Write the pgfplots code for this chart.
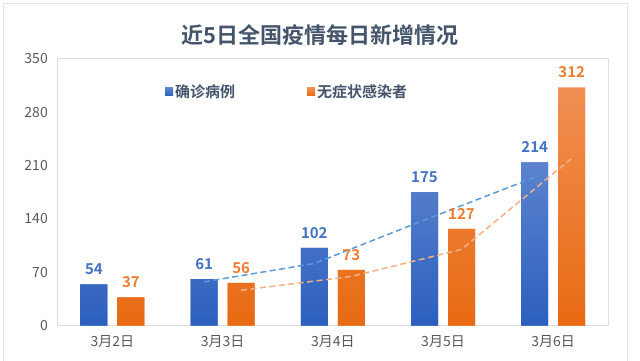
\documentclass[border=0pt]{standalone}
\usepackage{pgfplots}
\pgfplotsset{compat=1.18}
\usepackage{fontspec}
\setmainfont{Noto Sans CJK SC}[BoldFont={Noto Sans CJK SC Bold}]
\definecolor{bluetop}{HTML}{5B83CF}
\definecolor{bluebot}{HTML}{2C5FBE}
\definecolor{orgtop}{HTML}{F18F52}
\definecolor{orgbot}{HTML}{E86A12}
\definecolor{bluelab}{HTML}{4472C4}
\definecolor{orglab}{HTML}{ED7D31}
\definecolor{titlec}{HTML}{44546A}
\definecolor{tickc}{HTML}{595959}
\definecolor{bluedash}{HTML}{5B9BD5}
\definecolor{orgdash}{HTML}{F4B183}
\begin{document}
\begin{tikzpicture}[x=1pt,y=1pt]
\path[use as bounding box] (0,0) rectangle (640,360);
\draw[color=black!10, line width=1pt] (3.5,-5) rectangle (627.5,357);
\node[font=\fontsize{22}{25}\selectfont\bfseries, text=titlec] at (320,325) {近5日全国疫情每日新增情况};
\begin{axis}[
  at={(52,45)}, anchor=south west, scale only axis,
  width=551pt, height=267pt,
  xmin=-0.5, xmax=4.5, ymin=0, ymax=350,
  ybar=10pt, bar width=27pt,
  xtick={0,1,2,3,4},
  xticklabels={3月2日,3月3日,3月4日,3月5日,3月6日},
  ytick={0,70,140,210,280,350},
  major tick length=0pt,
  axis line style={draw=black!13},
  ticklabel style={font=\fontsize{14}{16}\selectfont, text=tickc},
  /pgf/number format/assume math mode=true,
  xticklabel style={yshift=-6pt},
  yticklabel style={xshift=-6pt},
  legend columns=2,
  legend style={at={(0.19,0.876)}, anchor=west, draw=none, fill=none,
    font=\fontsize{15}{17}\selectfont\bfseries, text=titlec,
    /tikz/every even column/.append style={column sep=70pt}},
  legend image code/.code={\fill (0pt,-4pt) rectangle (8pt,4pt);},
]
\addplot[draw=none, top color=bluetop, bottom color=bluebot, fill=bluelab,
  nodes near coords,
  every node near coord/.append style={font=\fontsize{15}{17}\selectfont\bfseries, text=bluelab, yshift=6pt}]
  coordinates {(0,54) (1,61) (2,102) (3,175) (4,214)};
\addlegendentry{确诊病例}
\addplot[draw=none, top color=orgtop, bottom color=orgbot, fill=orglab,
  nodes near coords,
  every node near coord/.append style={font=\fontsize{15}{17}\selectfont\bfseries, text=orglab, yshift=6pt}]
  coordinates {(0,37) (1,56) (2,73) (3,127) (4,312)};
\addlegendentry{无症状感染者}
\addplot[forget plot, sharp plot, no marks, dash pattern=on 6pt off 3.5pt, line width=1.5pt, color=bluedash]
  coordinates {(0.832,57.5) (1.832,81.5) (2.832,138.5) (3.832,194.5)};
\addplot[forget plot, sharp plot, no marks, dash pattern=on 6pt off 3.5pt, line width=1.5pt, color=orgdash]
  coordinates {(1.168,46.5) (2.168,64.5) (3.168,100) (4.168,219.5)};
\end{axis}
\end{tikzpicture}
\end{document}
